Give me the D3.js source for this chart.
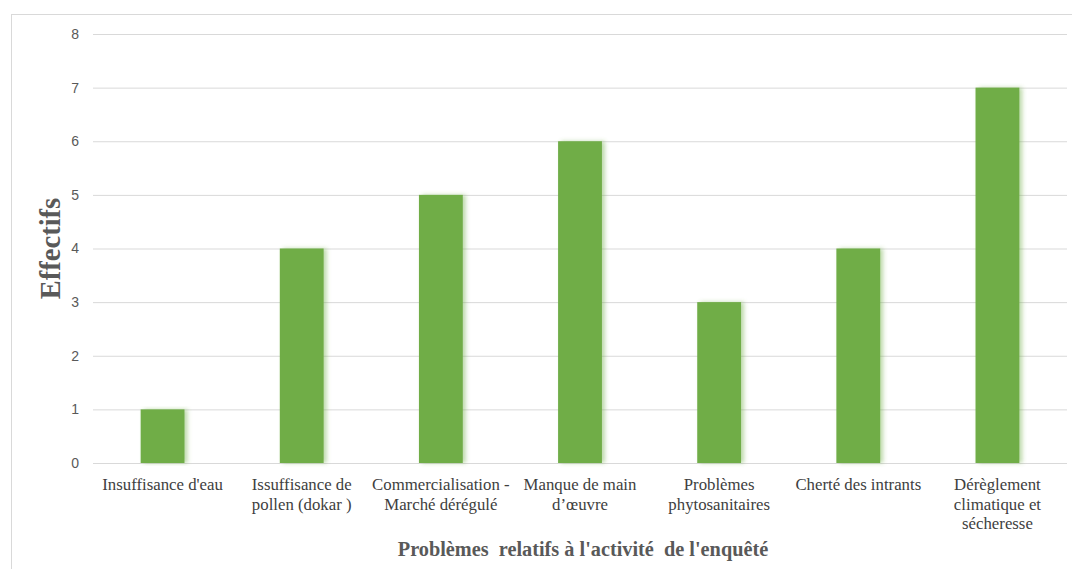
<!DOCTYPE html>
<html>
<head>
<meta charset="utf-8">
<script src="https://cdn.jsdelivr.net/npm/d3@7"></script>
<style>
  html, body { margin: 0; padding: 0; background: #fff; }
  svg { display: block; }
</style>
</head>
<body>
<svg id="chart" width="1072" height="569"></svg>
<script>
// Problems reported by the surveyed growers (counts per problem)
const categories = [
  "Insuffisance d'eau",
  "Issuffisance de\npollen (dokar )",
  "Commercialisation -\nMarché dérégulé",
  "Manque de main\nd\u2019\u0153uvre",
  "Problèmes\nphytosanitaires",
  "Cherté des intrants",
  "Dérèglement\nclimatique et\nsécheresse"
];
const values = [1, 4, 5, 6, 3, 4, 7];
const yTicks = [0, 1, 2, 3, 4, 5, 6, 7, 8];
const yTitle = "Effectifs";
const xTitle = "Problèmes  relatifs à l'activité  de l'enquêté";

const svg = d3.select("#chart");
const W = 1072, H = 569;
const margin = { left: 93, right: 5, top: 34, bottom: 106 };

// outer frame
svg.append("rect")
  .attr("x", 11.5).attr("y", 14.5)
  .attr("width", W + 10).attr("height", H + 10)
  .attr("fill", "#fff").attr("stroke", "#d9d9d9").attr("stroke-width", 1);

const x = d3.scaleBand()
  .domain(categories)
  .range([margin.left, W - margin.right])
  .paddingInner(0.685).paddingOuter(0.3425);

const y = d3.scaleLinear()
  .domain([0, 8])
  .range([H - margin.bottom, margin.top]);

// soft shadow to the right of each bar
const defs = svg.append("defs");
const f = defs.append("filter").attr("id", "barShadow")
  .attr("x", "-20%").attr("y", "-5%").attr("width", "160%").attr("height", "110%");
f.append("feDropShadow")
  .attr("dx", 3).attr("dy", 0).attr("stdDeviation", 2)
  .attr("flood-color", "#70AD47").attr("flood-opacity", 0.45);

// horizontal gridlines + y tick labels
const yAxis = d3.axisLeft(y).tickValues(yTicks)
  .tickSize(-(W - margin.right - margin.left)).tickPadding(14);
const gy = svg.append("g")
  .attr("transform", `translate(${margin.left},0)`)
  .call(yAxis);
gy.select(".domain").remove();
gy.selectAll(".tick line").attr("stroke", "#d9d9d9").attr("stroke-width", 1);
gy.selectAll(".tick text")
  .attr("fill", "#595959")
  .attr("font-family", "'Liberation Sans', Arial, sans-serif")
  .attr("font-size", 14);

// bars
svg.append("g").selectAll("rect")
  .data(values)
  .join("rect")
  .attr("x", (d, i) => x(categories[i]))
  .attr("y", d => y(d))
  .attr("width", x.bandwidth())
  .attr("height", d => y(0) - y(d))
  .attr("fill", "#70AD47")
  .attr("filter", "url(#barShadow)");

// category labels
const xAxis = d3.axisBottom(x).tickSize(0).tickFormat(() => "");
const gx = svg.append("g")
  .attr("transform", `translate(0,${y(0)})`)
  .call(xAxis);
gx.select(".domain").remove();
gx.selectAll(".tick").each(function (d) {
  const t = d3.select(this).append("text")
    .attr("fill", "#404040")
    .attr("font-family", "'Liberation Serif', 'Times New Roman', serif")
    .attr("font-size", 16.8)
    .attr("text-anchor", "middle");
  d.split("\n").forEach((line, k) => {
    t.append("tspan").attr("x", 0).attr("y", 27 + k * 19.5).text(line);
  });
});

// axis titles
svg.append("text")
  .attr("transform", `translate(60,${(y(0) + y(8)) / 2}) rotate(-90)`)
  .attr("text-anchor", "middle")
  .attr("fill", "#595959")
  .attr("font-family", "'Liberation Serif', 'Times New Roman', serif")
  .attr("font-weight", "bold")
  .attr("font-size", 28.5)
  .text(yTitle);

svg.append("text")
  .attr("x", (margin.left + W - margin.right) / 2 + 3)
  .attr("y", 556)
  .attr("text-anchor", "middle")
  .attr("fill", "#595959")
  .attr("font-family", "'Liberation Serif', 'Times New Roman', serif")
  .attr("font-weight", "bold")
  .attr("font-size", 20.3)
  .attr("xml:space", "preserve")
  .style("white-space", "pre")
  .text(xTitle);
</script>
</body>
</html>
